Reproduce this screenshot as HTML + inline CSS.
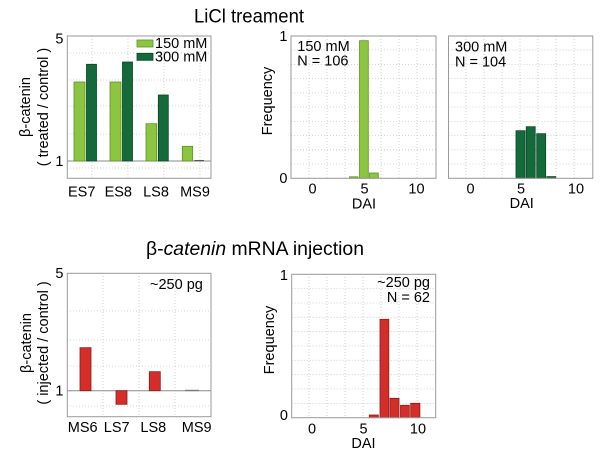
<!DOCTYPE html>
<html><head><meta charset="utf-8"><style>
html,body{margin:0;padding:0;background:#fff;}
svg{display:block;}
text{font-family:"Liberation Sans",Arial,sans-serif;fill:#000;}
.t{font-size:14.5px;}
.g{stroke:#c8c8c8;stroke-width:0.8;stroke-dasharray:1,2;fill:none;}
.f{fill:none;stroke:#9a9a9a;stroke-width:1;}
.lg{fill:#8cc53f;stroke:#5f8f2a;stroke-width:0.8;}
.dg{fill:#146a3a;stroke:#0b4526;stroke-width:0.8;}
.rd{fill:#d42d2a;stroke:#8a1b18;stroke-width:0.8;}
</style></head><body>
<svg width="613" height="459" viewBox="0 0 613 459" xmlns="http://www.w3.org/2000/svg">
<rect width="613" height="459" fill="#fff"/>

<text x="194" y="22.5" font-size="19" textLength="110" lengthAdjust="spacingAndGlyphs">LiCl treament</text>
<text x="146" y="255" font-size="19" textLength="218" lengthAdjust="spacingAndGlyphs">β-<tspan font-style="italic">catenin</tspan> mRNA injection</text>

<g>
<line class="g" x1="67" y1="53" x2="211" y2="53"/>
<line class="g" x1="67" y1="80" x2="211" y2="80"/>
<line class="g" x1="67" y1="106" x2="211" y2="106"/>
<line class="g" x1="67" y1="134" x2="211" y2="134"/>
<line class="g" x1="67" y1="168" x2="211" y2="168"/>
<line class="g" x1="92" y1="36" x2="92" y2="178"/>
<line class="g" x1="128" y1="36" x2="128" y2="178"/>
<line class="g" x1="164" y1="36" x2="164" y2="178"/>
<line class="g" x1="200" y1="36" x2="200" y2="178"/>
<line x1="67" y1="161" x2="211" y2="161" stroke="#8a8a8a" stroke-width="1"/>
<rect class="lg" x="74" y="82" width="11" height="79"/>
<rect class="dg" x="86.5" y="64.3" width="10" height="96.7"/>
<rect class="lg" x="110" y="82" width="11" height="79"/>
<rect class="dg" x="122.5" y="62" width="10" height="99"/>
<rect class="lg" x="146" y="123.7" width="10.7" height="37.3"/>
<rect class="dg" x="158.3" y="95" width="10" height="66"/>
<rect class="lg" x="182.3" y="146.3" width="10.4" height="14.7"/>
<rect x="194.3" y="160" width="9.7" height="1.2" fill="#555"/>
<rect class="f" x="67.3" y="36" width="143.7" height="142.3"/>
<rect class="lg" x="137" y="40" width="16" height="7"/>
<rect class="dg" x="137" y="53.3" width="16" height="7"/>
<text class="t" x="155" y="48" font-size="15">150 mM</text>
<text class="t" x="155" y="61.5" font-size="15">300 mM</text>
<text class="t" x="63.5" y="43.5" text-anchor="end">5</text>
<text class="t" x="63.5" y="166" text-anchor="end">1</text>
<text class="t" x="81.7" y="196.5" text-anchor="middle">ES7</text>
<text class="t" x="118.3" y="196.5" text-anchor="middle">ES8</text>
<text class="t" x="156" y="196.5" text-anchor="middle">LS8</text>
<text class="t" x="195" y="196.5" text-anchor="middle">MS9</text>
<text class="t" transform="translate(30,107) rotate(-90)" text-anchor="middle">β-catenin</text>
<text class="t" transform="translate(48,107) rotate(-90)" text-anchor="middle">( treated / control )</text>
</g>

<g>
<line class="g" x1="291" y1="64.5" x2="436" y2="64.5"/>
<line class="g" x1="291" y1="92.9" x2="436" y2="92.9"/>
<line class="g" x1="291" y1="121.4" x2="436" y2="121.4"/>
<line class="g" x1="291" y1="149.8" x2="436" y2="149.8"/>
<line class="g" x1="291" y1="164" x2="436" y2="164"/>
<line class="g" x1="291" y1="50" x2="436" y2="50"/>
<line class="g" x1="291" y1="78.6" x2="436" y2="78.6"/>
<line class="g" x1="291" y1="107" x2="436" y2="107"/>
<line class="g" x1="291" y1="135.6" x2="436" y2="135.6"/>
<line class="g" x1="309" y1="36" x2="309" y2="178"/>
<line class="g" x1="327" y1="36" x2="327" y2="178"/>
<line class="g" x1="345" y1="36" x2="345" y2="178"/>
<line class="g" x1="363" y1="36" x2="363" y2="178"/>
<line class="g" x1="381" y1="36" x2="381" y2="178"/>
<line class="g" x1="399" y1="36" x2="399" y2="178"/>
<line class="g" x1="417" y1="36" x2="417" y2="178"/>
<rect class="lg" x="349.5" y="176.8" width="8.5" height="1.5"/>
<rect class="lg" x="359.5" y="40.7" width="8.8" height="137.6"/>
<rect class="lg" x="369.5" y="173" width="8.8" height="5.3"/>
<rect class="f" x="291" y="36" width="145" height="142.3"/>
<text class="t" x="297.3" y="51" font-size="15">150 mM</text>
<text class="t" x="297.3" y="65.5" font-size="15">N = 106</text>
<text class="t" x="287.5" y="41" text-anchor="end">1</text>
<text class="t" x="287.5" y="183" text-anchor="end">0</text>
<text class="t" x="312.5" y="193.5" text-anchor="middle">0</text>
<text class="t" x="364.5" y="193.5" text-anchor="middle">5</text>
<text class="t" x="416.5" y="193.5" text-anchor="middle">10</text>
<text class="t" x="364" y="208.3" text-anchor="middle" font-size="15">DAI</text>
<text class="t" transform="translate(272,101) rotate(-90)" text-anchor="middle">Frequency</text>
</g>

<g>
<line class="g" x1="448.5" y1="50" x2="593" y2="50"/>
<line class="g" x1="448.5" y1="64.5" x2="593" y2="64.5"/>
<line class="g" x1="448.5" y1="78.6" x2="593" y2="78.6"/>
<line class="g" x1="448.5" y1="92.9" x2="593" y2="92.9"/>
<line class="g" x1="448.5" y1="107" x2="593" y2="107"/>
<line class="g" x1="448.5" y1="121.4" x2="593" y2="121.4"/>
<line class="g" x1="448.5" y1="135.6" x2="593" y2="135.6"/>
<line class="g" x1="448.5" y1="149.8" x2="593" y2="149.8"/>
<line class="g" x1="448.5" y1="164" x2="593" y2="164"/>
<line class="g" x1="466" y1="36" x2="466" y2="178"/>
<line class="g" x1="484" y1="36" x2="484" y2="178"/>
<line class="g" x1="502" y1="36" x2="502" y2="178"/>
<line class="g" x1="520" y1="36" x2="520" y2="178"/>
<line class="g" x1="538" y1="36" x2="538" y2="178"/>
<line class="g" x1="556" y1="36" x2="556" y2="178"/>
<line class="g" x1="574" y1="36" x2="574" y2="178"/>
<rect class="dg" x="516" y="130.7" width="9" height="47.6"/>
<rect class="dg" x="526.2" y="126.7" width="9" height="51.6"/>
<rect class="dg" x="536.7" y="133.7" width="9" height="44.6"/>
<rect class="dg" x="546.8" y="176.6" width="9" height="1.7"/>
<rect class="f" x="448.5" y="36" width="144.3" height="142.3"/>
<text class="t" x="455" y="51.5" font-size="15">300 mM</text>
<text class="t" x="455" y="66.5" font-size="15">N = 104</text>
<text class="t" x="470.5" y="193.5" text-anchor="middle">0</text>
<text class="t" x="521" y="193.5" text-anchor="middle">5</text>
<text class="t" x="576" y="193.5" text-anchor="middle">10</text>
<text class="t" x="521.7" y="208" text-anchor="middle" font-size="15">DAI</text>
</g>

<g>
<line class="g" x1="67" y1="311" x2="211" y2="311"/>
<line class="g" x1="67" y1="340" x2="211" y2="340"/>
<line class="g" x1="67" y1="366" x2="211" y2="366"/>
<line class="g" x1="67" y1="406" x2="211" y2="406"/>
<line class="g" x1="103" y1="273" x2="103" y2="417"/>
<line class="g" x1="139" y1="273" x2="139" y2="417"/>
<line class="g" x1="175" y1="273" x2="175" y2="417"/>
<line x1="67" y1="390.7" x2="211" y2="390.7" stroke="#8a8a8a" stroke-width="1"/>
<rect class="rd" x="80" y="347.7" width="11" height="43"/>
<rect class="rd" x="116" y="390.7" width="11" height="13.6"/>
<rect class="rd" x="149.3" y="371.7" width="11" height="19"/>
<rect x="185" y="389.8" width="14" height="1.3" fill="#777"/>
<rect class="f" x="67.3" y="273.3" width="143.7" height="143.4"/>
<text class="t" x="150" y="289" font-size="14.5">~250 pg</text>
<text class="t" x="63.5" y="278" text-anchor="end">5</text>
<text class="t" x="63.5" y="395.7" text-anchor="end">1</text>
<text class="t" x="82.7" y="432" text-anchor="middle">MS6</text>
<text class="t" x="116.7" y="432" text-anchor="middle">LS7</text>
<text class="t" x="153.3" y="432" text-anchor="middle">LS8</text>
<text class="t" x="196.7" y="432" text-anchor="middle">MS9</text>
<text class="t" transform="translate(31,343) rotate(-90)" text-anchor="middle">β-catenin</text>
<text class="t" transform="translate(48,343) rotate(-90)" text-anchor="middle">( injected / control )</text>
</g>

<g>
<line class="g" x1="291.7" y1="288.6" x2="435.7" y2="288.6"/>
<line class="g" x1="291.7" y1="303" x2="435.7" y2="303"/>
<line class="g" x1="291.7" y1="317.3" x2="435.7" y2="317.3"/>
<line class="g" x1="291.7" y1="331.7" x2="435.7" y2="331.7"/>
<line class="g" x1="291.7" y1="346" x2="435.7" y2="346"/>
<line class="g" x1="291.7" y1="360.3" x2="435.7" y2="360.3"/>
<line class="g" x1="291.7" y1="374.7" x2="435.7" y2="374.7"/>
<line class="g" x1="291.7" y1="389" x2="435.7" y2="389"/>
<line class="g" x1="291.7" y1="403.4" x2="435.7" y2="403.4"/>
<line class="g" x1="309" y1="274" x2="309" y2="417"/>
<line class="g" x1="327" y1="274" x2="327" y2="417"/>
<line class="g" x1="345" y1="274" x2="345" y2="417"/>
<line class="g" x1="363" y1="274" x2="363" y2="417"/>
<line class="g" x1="381" y1="274" x2="381" y2="417"/>
<line class="g" x1="399" y1="274" x2="399" y2="417"/>
<line class="g" x1="417" y1="274" x2="417" y2="417"/>
<rect class="rd" x="369.3" y="415" width="9" height="2.7"/>
<rect class="rd" x="380" y="319.3" width="8.8" height="98.4"/>
<rect class="rd" x="390" y="398.3" width="9" height="19.4"/>
<rect class="rd" x="400.5" y="405.3" width="8.8" height="12.4"/>
<rect class="rd" x="410.7" y="403.3" width="9.2" height="14.4"/>
<rect class="f" x="291.7" y="274.3" width="144" height="143.4"/>
<text class="t" x="430" y="287" text-anchor="end">~250 pg</text>
<text class="t" x="430" y="302" text-anchor="end">N = 62</text>
<text class="t" x="288" y="280" text-anchor="end">1</text>
<text class="t" x="288" y="420" text-anchor="end">0</text>
<text class="t" x="312" y="433.5" text-anchor="middle">0</text>
<text class="t" x="363.5" y="433.5" text-anchor="middle">5</text>
<text class="t" x="418" y="433.5" text-anchor="middle">10</text>
<text class="t" x="363.5" y="448" text-anchor="middle" font-size="15">DAI</text>
<text class="t" transform="translate(274,340) rotate(-90)" text-anchor="middle">Frequency</text>
</g>
</svg>
</body></html>
